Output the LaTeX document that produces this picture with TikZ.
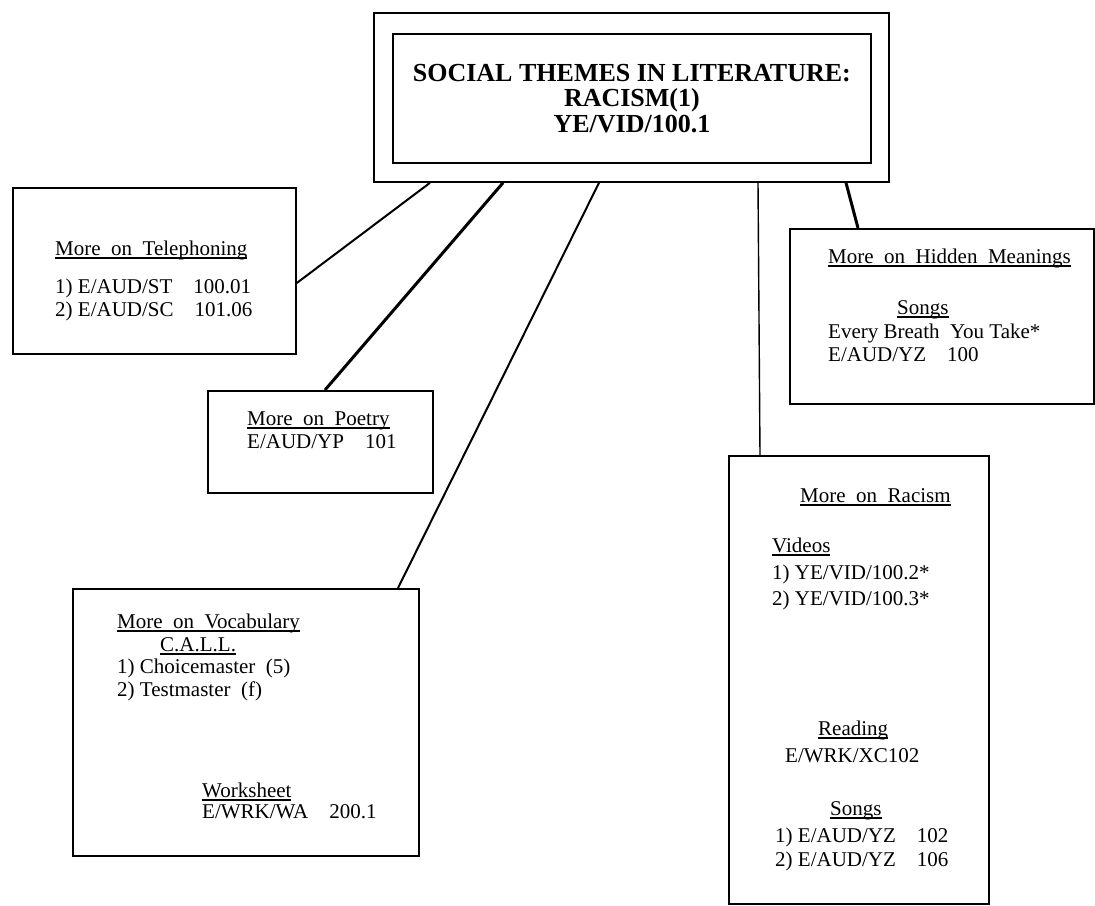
\documentclass[tikz,border=0pt]{standalone}
\usepackage{fontspec}
\setmainfont{Liberation Serif}
\usetikzlibrary{calc}

\newsavebox{\ulbox}
\newcommand{\uln}[1]{\sbox{\ulbox}{#1}\rlap{\rule[-3.5pt]{\wd\ulbox}{1.3pt}}\usebox{\ulbox}}

\tikzset{
  box/.style={draw, line width=1.8pt, inner sep=0pt, anchor=north west},
  txt/.style={anchor=base west, inner sep=0pt, font=\fontsize{21}{25}\selectfont},
  link/.style={line width=2pt},
  heavy/.style={line width=3pt},
  thin/.style={line width=1.4pt},
}

\begin{document}
\begin{tikzpicture}[x=1pt, y=-1pt]
    \useasboundingbox (0,0) rectangle (1095,905);

    \node[box, minimum width=515pt, minimum height=169pt] (main) at (373,12) {};
    \node[box, minimum width=478pt, minimum height=129pt, align=center,
          font=\fontsize{26}{25.5}\selectfont\bfseries] (title) at (392,33)
          {SOCIAL THEMES IN LITERATURE:\\RACISM(1)\\YE/VID/100.1};

    \node[box, minimum width=283pt, minimum height=166pt] (tel) at (12,187) {};
    \node[box, minimum width=225pt, minimum height=102pt] (poetry) at (207,390) {};
    \node[box, minimum width=346pt, minimum height=267pt] (vocab) at (72,588) {};
    \node[box, minimum width=304pt, minimum height=175pt] (hidden) at (789,228) {};
    \node[box, minimum width=260pt, minimum height=448pt] (racism) at (728,455) {};

    \draw[link] ($(main.south west)+(57,0)$) -- ($(tel.north east)+(0,96)$);
    \draw[heavy] ($(main.south west)+(130,0)$) -- ($(poetry.north west)+(118,0)$);
    \draw[link] ($(main.south west)+(226,0)$) -- ($(vocab.north west)+(326,0)$);
    \draw[thin] ($(main.south west)+(385,0)$) -- ($(racism.north west)+(32,0)$);
    \draw[heavy] ($(main.south west)+(473,0)$) -- ($(hidden.north west)+(69,0)$);

    \node[txt] (tel0) at (55,255) {\uln{More\ \ on\ \ Telephoning}};
    \node[txt] (tel1) at (55,293) {1) E/AUD/ST\quad 100.01};
    \node[txt] (tel2) at (55,316) {2) E/AUD/SC\quad 101.06};

    \node[txt] (poe0) at (247,425) {\uln{More\ \ on\ \ Poetry}};
    \node[txt] (poe1) at (247,448) {E/AUD/YP\quad 101};

    \node[txt] (voc0) at (117,628) {\uln{More\ \ on\ \ Vocabulary}};
    \node[txt] (voc1) at (160,651) {\uln{C.A.L.L.}};
    \node[txt] (voc2) at (117,673) {1) Choicemaster\ \ (5)};
    \node[txt] (voc3) at (117,696) {2) Testmaster\ \ (f)};
    \node[txt] (voc4) at (202,797) {\uln{Worksheet}};
    \node[txt] (voc5) at (202,818) {E/WRK/WA\quad 200.1};

    \node[txt] (hid0) at (828,263) {\uln{More\ \ on\ \ Hidden\ \ Meanings}};
    \node[txt] (hid1) at (897,314) {\uln{Songs}};
    \node[txt] (hid2) at (828,338) {Every Breath\ \ You Take*};
    \node[txt] (hid3) at (828,361) {E/AUD/YZ\quad 100};

    \node[txt] (rac0) at (800,502) {\uln{More\ \ on\ \ Racism}};
    \node[txt] (rac1) at (772,552) {\uln{Videos}};
    \node[txt] (rac2) at (772,579) {1) YE/VID/100.2*};
    \node[txt] (rac3) at (772,605) {2) YE/VID/100.3*};
    \node[txt] (rac4) at (818,735) {\uln{Reading}};
    \node[txt] (rac5) at (785,762) {E/WRK/XC102};
    \node[txt] (rac6) at (830,815) {\uln{Songs}};
    \node[txt] (rac7) at (775,842) {1) E/AUD/YZ\quad 102};
    \node[txt] (rac8) at (775,866) {2) E/AUD/YZ\quad 106};
\end{tikzpicture}
\end{document}
